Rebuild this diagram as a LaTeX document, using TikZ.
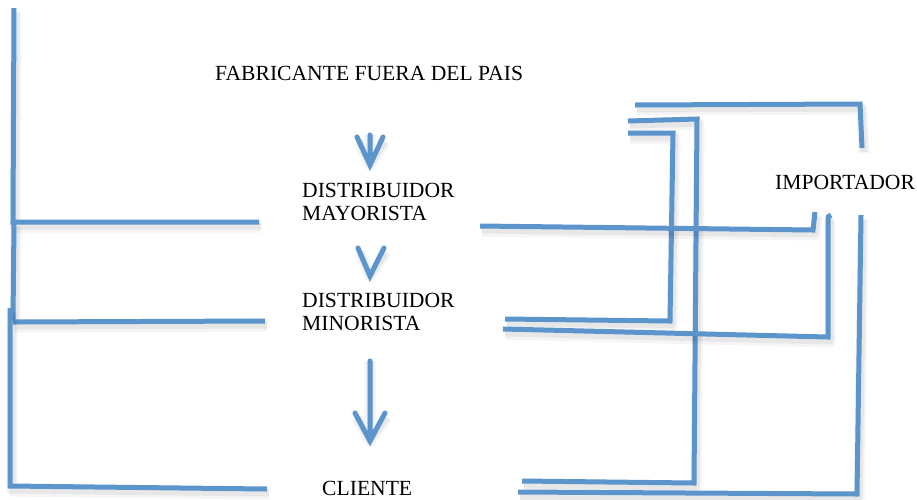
\documentclass[tikz,border=0pt]{standalone}
\usepackage{fontspec}
\setmainfont{Liberation Serif}
\definecolor{lineblue}{RGB}{92,148,204}
\tikzset{
  blueline/.style={draw=lineblue,line width=5pt,line join=miter,line cap=butt},
  shadowline/.style={draw=black,opacity=0.06,line width=7pt,line join=round},
  shadowwide/.style={draw=black,opacity=0.04,line width=11pt,line join=round},
  arrowline/.style={draw=lineblue,line width=5pt,line join=miter,line cap=round},
  lbl/.style={inner sep=0pt,anchor=base west,font=\fontsize{21.6}{24}\selectfont}
}
\newcommand\bluepath[1]{\draw[shadowwide,shift={(2,5)}] #1;\draw[shadowline,shift={(2,4)}] #1;\draw[blueline] #1;}
\newcommand\bluearrow[1]{\draw[shadowwide,shift={(2,5)}] #1;\draw[shadowline,shift={(2,4)}] #1;\draw[arrowline] #1;}
\begin{document}
\begin{tikzpicture}[x=1pt,y=-1pt]
\useasboundingbox (0,0) rectangle (917,499);
% texts
\node[lbl] (fab) at (215,80) {FABRICANTE FUERA DEL PAIS};
\node[lbl] (dmay1) at (302,197) {DISTRIBUIDOR};
\node[lbl] (dmay2) at (302,220) {MAYORISTA};
\node[lbl] (dmin1) at (302,307) {DISTRIBUIDOR};
\node[lbl] (dmin2) at (302,330) {MINORISTA};
\node[lbl] (cli) at (322,495) {CLIENTE};
\node[lbl] (imp) at (775,189) {IMPORTADOR};
% arrows
\coordinate (a1t) at (370,135);
\coordinate (a1h) at (370,165);
\bluearrow{(357,137) -- (a1h) -- (383,137) (a1t) -- (a1h)}
\coordinate (a2h) at (370,276);
\bluearrow{(358,248) -- (a2h) -- (384,248)}
\coordinate (a3t) at (370,361);
\coordinate (a3h) at (370,441);
\bluearrow{(a3t) -- (a3h) (355,413) -- (a3h) -- (385,413)}
% left lines
\bluepath{(14,8) -- (13,222) -- (259,222)}
\bluepath{(14,222) -- (13,320)}
\bluepath{(13,322) -- (265,321)}
\bluepath{(10,308) -- (10,486) -- (267,489)}
% right lines
\bluepath{(635,105) -- (860,104) -- (862,148)}
\bluepath{(628,121) -- (697,119) -- (694,483) -- (522,481)}
\bluepath{(628,133) -- (673,133) -- (670,321) -- (505,319)}
\bluepath{(480,226) -- (813,230) -- (815,212)}
\bluepath{(831,215) .. controls (828,216) .. (828,222) -- (828,337) -- (503,329)}
\bluepath{(861,215) -- (857,494) -- (518,492)}
\end{tikzpicture}
\end{document}
